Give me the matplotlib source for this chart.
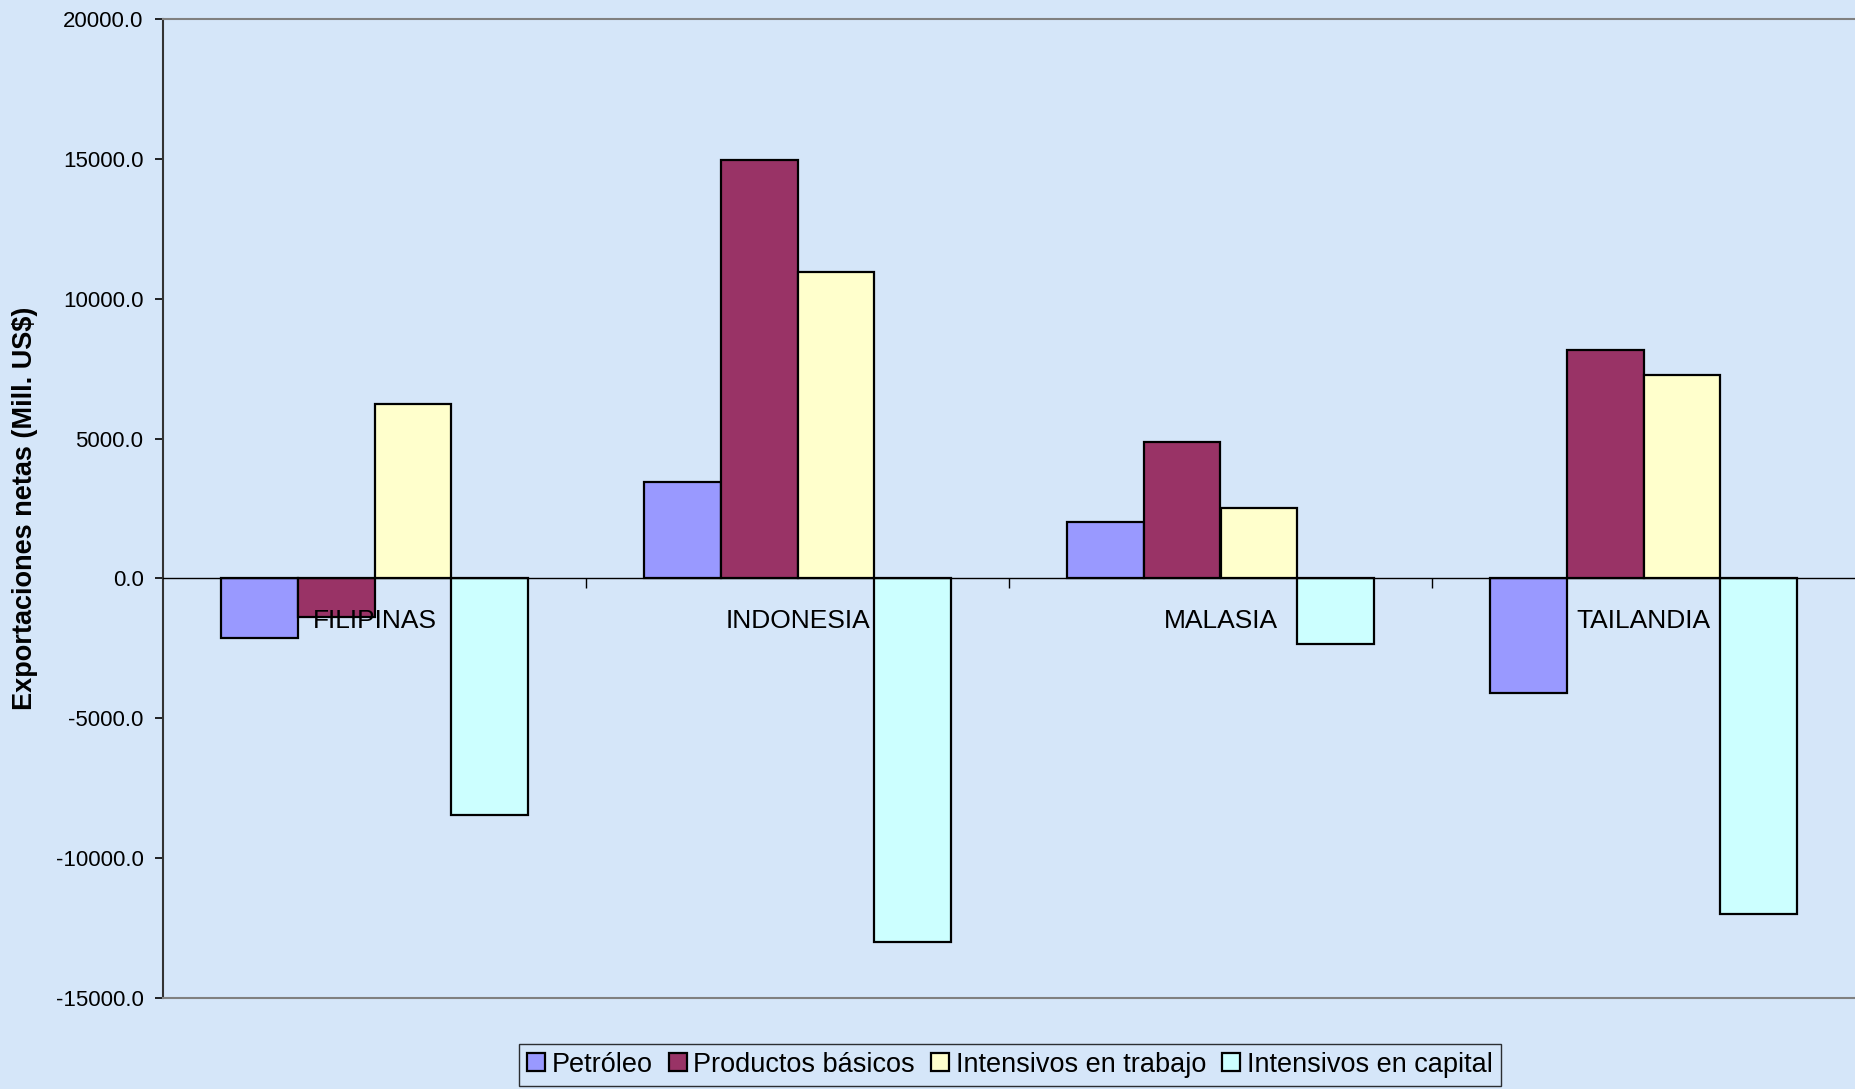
import matplotlib
matplotlib.use("Agg")
import matplotlib.pyplot as plt
import numpy as np

countries = ["FILIPINAS", "INDONESIA", "MALASIA", "TAILANDIA"]
series_names = ["Petróleo", "Productos básicos", "Intensivos en trabajo", "Intensivos en capital"]
petroleo = [-2130, 3450, 2010, -4090]
productos = [-1380, 14960, 4870, 8180]
trabajo = [6240, 10960, 2530, 7280]
capital = [-8460, -12990, -2340, -12000]
colors = ["#9999FF", "#993366", "#FFFFCC", "#CCFFFF"]
yticks = [-15000, -10000, -5000, 0, 5000, 10000, 15000, 20000]

plt.rcParams['font.family'] = ['Liberation Sans', 'DejaVu Sans']

bg = "#d5e6f9"
fig = plt.figure(figsize=(18.55, 10.89), dpi=100, facecolor=bg)
ax = fig.add_axes([163/1855, 1 - 998/1089, 1 - 163/1855, (998 - 19)/1089])
ax.set_facecolor(bg)

data = [petroleo, productos, trabajo, capital]
n = len(series_names)
w = 1 / (n + 1.5)
x = np.arange(len(countries))
for i, (name, vals, c) in enumerate(zip(series_names, data, colors)):
    ax.bar(x + (i - (n - 1) / 2) * w, vals, width=w, color=c, edgecolor="black",
           linewidth=1.6, label=name, zorder=2)

ax.set_xlim(-0.5, len(countries) - 0.5)
ax.set_ylim(min(yticks), max(yticks))
ax.set_yticks(yticks)
ax.set_yticklabels([f"{v:.1f}" for v in yticks], fontsize=16)
ax.tick_params(axis='y', direction='out', length=6, width=1.2, pad=8, colors='black')
ax.set_xticks([])
ax.spines['left'].set_color('#333333')
ax.spines['left'].set_linewidth(1.5)
ax.spines['top'].set_color('#808080')
ax.spines['top'].set_linewidth(1.5)
ax.spines['bottom'].set_color('#808080')
ax.spines['bottom'].set_linewidth(1.5)
ax.spines['right'].set_visible(False)

ax.set_ylabel("Exportaciones netas (Mill. US$)", fontsize=19.5, fontweight='bold')
ax.yaxis.set_label_coords(-0.074, 0.5)

# zero axis with category ticks
ymin, ymax = ax.get_ylim()
zero_pos = (0 - ymin) / (ymax - ymin)
sec = ax.secondary_xaxis(zero_pos)
sec.spines['bottom'].set_color('black')
sec.spines['bottom'].set_linewidth(1.0)
sec.set_xticks(x[:-1] + 0.5)
sec.set_xticks(x, labels=countries, minor=True)
sec.tick_params(axis='x', which='major', direction='out', length=7, width=1.0, labelbottom=False)
sec.tick_params(axis='x', which='minor', length=0, pad=22, labelsize=19)
sec.set_zorder(3)

leg = fig.legend(loc='lower center', bbox_to_anchor=(1010/1855, 3/1089), ncol=4, fontsize=19.5,
                 frameon=True, fancybox=False, edgecolor='black', facecolor='none',
                 handlelength=0.65, handleheight=0.65, handletextpad=0.25, columnspacing=0.6,
                 borderpad=0.3, borderaxespad=0)
leg.get_frame().set_linewidth(1.0)

fig.savefig("out.png", dpi=100, facecolor=bg)
